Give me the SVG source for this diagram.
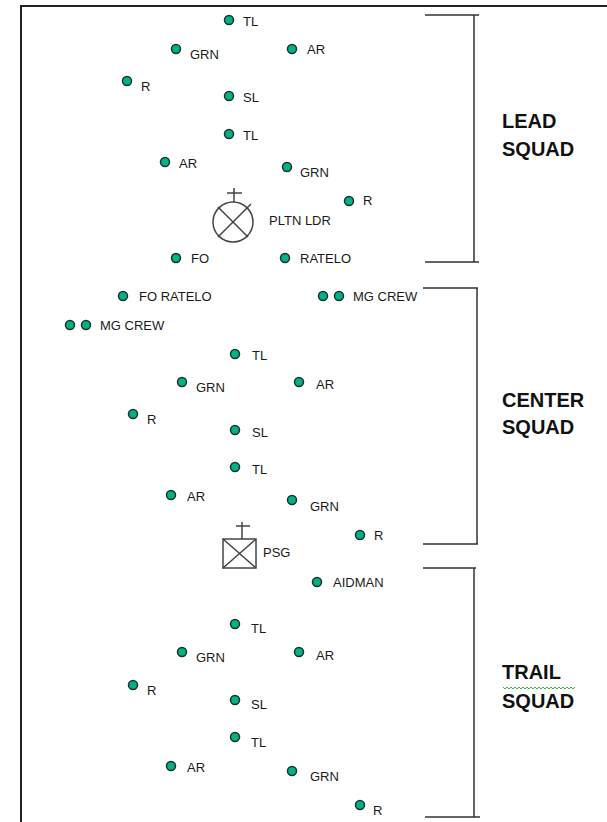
<svg xmlns="http://www.w3.org/2000/svg" width="607" height="822" viewBox="0 0 607 822">
  <style>
    .dot { fill: #00b386; stroke: #1f2f29; stroke-width: 1.5; }
    .lbl { font-family: "Liberation Sans", Arial, sans-serif; font-size: 13px; fill: #1a1a1a; }
    .sq { font-family: "Liberation Sans", Arial, sans-serif; font-size: 20px; font-weight: bold; fill: #111; }
    .ln { stroke: #333; stroke-width: 1.5; fill: none; }
    .sym { stroke: #444; stroke-width: 1.5; fill: none; }
    .frame { stroke: #222; stroke-width: 2; fill: none; }
  </style>

  <rect width="607" height="822" fill="#fff"/>
  <path class="frame" d="M21,822 V6 H607"/>

  <!-- squad brackets -->
  <g id="squad-brackets">
    <path class="ln" d="M425,15 H479 M474,15 V262 M425,262 H479"/>
    <path class="ln" d="M423,288 H478 M477,288 V544 M423,544 H478"/>
    <path class="ln" d="M423,568 H476 M474,568 V817 M425,817 H480"/>
  </g>

  <!-- squad titles -->
  <g id="lead-title"><text class="sq" x="502" y="128">LEAD</text><text class="sq" x="502" y="156">SQUAD</text></g>
  <g id="center-title"><text class="sq" x="502" y="407">CENTER</text><text class="sq" x="502" y="434">SQUAD</text></g>
  <g id="trail-title">
    <text class="sq" x="502" y="679">TRAIL</text>
    <path d="M503,687 l2,2 l2,-2 l2,2 l2,-2 l2,2 l2,-2 l2,2 l2,-2 l2,2 l2,-2 l2,2 l2,-2 l2,2 l2,-2 l2,2 l2,-2 l2,2 l2,-2 l2,2 l2,-2 l2,2 l2,-2 l2,2 l2,-2 l2,2 l2,-2 l2,2 l2,-2 l2,2 l2,-2 l2,2 l2,-2 l2,2 l2,-2 l2,2 l2,-2" fill="none" stroke="#3fae49" stroke-width="1"/>
    <text class="sq" x="502" y="708">SQUAD</text>
  </g>

  <!-- lead squad -->
  <g id="lead-tl1"><circle class="dot" cx="229" cy="20" r="4.5"/><text class="lbl" x="243" y="26">TL</text></g>
  <g id="lead-grn1"><circle class="dot" cx="176" cy="49" r="4.5"/><text class="lbl" x="190" y="59">GRN</text></g>
  <g id="lead-ar1"><circle class="dot" cx="292" cy="49" r="4.5"/><text class="lbl" x="307" y="54">AR</text></g>
  <g id="lead-r1"><circle class="dot" cx="127" cy="81" r="4.5"/><text class="lbl" x="141" y="91">R</text></g>
  <g id="lead-sl"><circle class="dot" cx="229" cy="96" r="4.5"/><text class="lbl" x="243" y="102">SL</text></g>
  <g id="lead-tl2"><circle class="dot" cx="229" cy="134" r="4.5"/><text class="lbl" x="243" y="140">TL</text></g>
  <g id="lead-ar2"><circle class="dot" cx="165" cy="162" r="4.5"/><text class="lbl" x="179" y="168">AR</text></g>
  <g id="lead-grn2"><circle class="dot" cx="287" cy="167" r="4.5"/><text class="lbl" x="300" y="177">GRN</text></g>
  <g id="lead-r2"><circle class="dot" cx="349" cy="201" r="4.5"/><text class="lbl" x="363" y="205">R</text></g>
  <g id="pltn-ldr">
    <circle class="sym" cx="233" cy="222" r="20"/>
    <path class="sym" d="M218,207 L248,237 M218,237 L251,204 M234,202 V188 M227,193 H242"/>
    <text class="lbl" x="269" y="225">PLTN LDR</text>
  </g>
  <g id="lead-fo"><circle class="dot" cx="176" cy="258" r="4.5"/><text class="lbl" x="191" y="263">FO</text></g>
  <g id="lead-ratelo"><circle class="dot" cx="285" cy="258" r="4.5"/><text class="lbl" x="300" y="263">RATELO</text></g>

  <!-- weapons and fire support -->
  <g id="fo-ratelo"><circle class="dot" cx="123" cy="296" r="4.5"/><text class="lbl" x="139" y="301">FO RATELO</text></g>
  <g id="mg-crew-right"><circle class="dot" cx="323" cy="296" r="4.5"/><circle class="dot" cx="339" cy="296" r="4.5"/><text class="lbl" x="353" y="301">MG CREW</text></g>
  <g id="mg-crew-left"><circle class="dot" cx="70" cy="325" r="4.5"/><circle class="dot" cx="86" cy="325" r="4.5"/><text class="lbl" x="100" y="330">MG CREW</text></g>

  <!-- center squad -->
  <g id="center-tl1"><circle class="dot" cx="235" cy="354" r="4.5"/><text class="lbl" x="252" y="360">TL</text></g>
  <g id="center-grn1"><circle class="dot" cx="182" cy="382" r="4.5"/><text class="lbl" x="196" y="392">GRN</text></g>
  <g id="center-ar1"><circle class="dot" cx="299" cy="382" r="4.5"/><text class="lbl" x="316" y="389">AR</text></g>
  <g id="center-r1"><circle class="dot" cx="133" cy="414" r="4.5"/><text class="lbl" x="147" y="424">R</text></g>
  <g id="center-sl"><circle class="dot" cx="235" cy="430" r="4.5"/><text class="lbl" x="252" y="437">SL</text></g>
  <g id="center-tl2"><circle class="dot" cx="235" cy="467" r="4.5"/><text class="lbl" x="252" y="474">TL</text></g>
  <g id="center-ar2"><circle class="dot" cx="171" cy="495" r="4.5"/><text class="lbl" x="187" y="501">AR</text></g>
  <g id="center-grn2"><circle class="dot" cx="292" cy="500" r="4.5"/><text class="lbl" x="310" y="511">GRN</text></g>
  <g id="center-r2"><circle class="dot" cx="360" cy="535" r="4.5"/><text class="lbl" x="374" y="540">R</text></g>
  <g id="psg">
    <rect class="sym" x="223" y="539" width="33" height="29"/>
    <path class="sym" d="M223,539 L256,568 M256,539 L223,568 M242,539 V522 M236,526 H250"/>
    <text class="lbl" x="263" y="557">PSG</text>
  </g>
  <g id="aidman"><circle class="dot" cx="317" cy="582" r="4.5"/><text class="lbl" x="333" y="587">AIDMAN</text></g>

  <!-- trail squad -->
  <g id="trail-tl1"><circle class="dot" cx="235" cy="624" r="4.5"/><text class="lbl" x="251" y="633">TL</text></g>
  <g id="trail-grn1"><circle class="dot" cx="182" cy="652" r="4.5"/><text class="lbl" x="196" y="662">GRN</text></g>
  <g id="trail-ar1"><circle class="dot" cx="299" cy="652" r="4.5"/><text class="lbl" x="316" y="660">AR</text></g>
  <g id="trail-r1"><circle class="dot" cx="133" cy="685" r="4.5"/><text class="lbl" x="147" y="695">R</text></g>
  <g id="trail-sl"><circle class="dot" cx="235" cy="700" r="4.5"/><text class="lbl" x="251" y="709">SL</text></g>
  <g id="trail-tl2"><circle class="dot" cx="235" cy="737" r="4.5"/><text class="lbl" x="251" y="747">TL</text></g>
  <g id="trail-ar2"><circle class="dot" cx="171" cy="766" r="4.5"/><text class="lbl" x="187" y="772">AR</text></g>
  <g id="trail-grn2"><circle class="dot" cx="292" cy="771" r="4.5"/><text class="lbl" x="310" y="781">GRN</text></g>
  <g id="trail-r2"><circle class="dot" cx="360" cy="805" r="4.5"/><text class="lbl" x="373" y="815">R</text></g>
</svg>
